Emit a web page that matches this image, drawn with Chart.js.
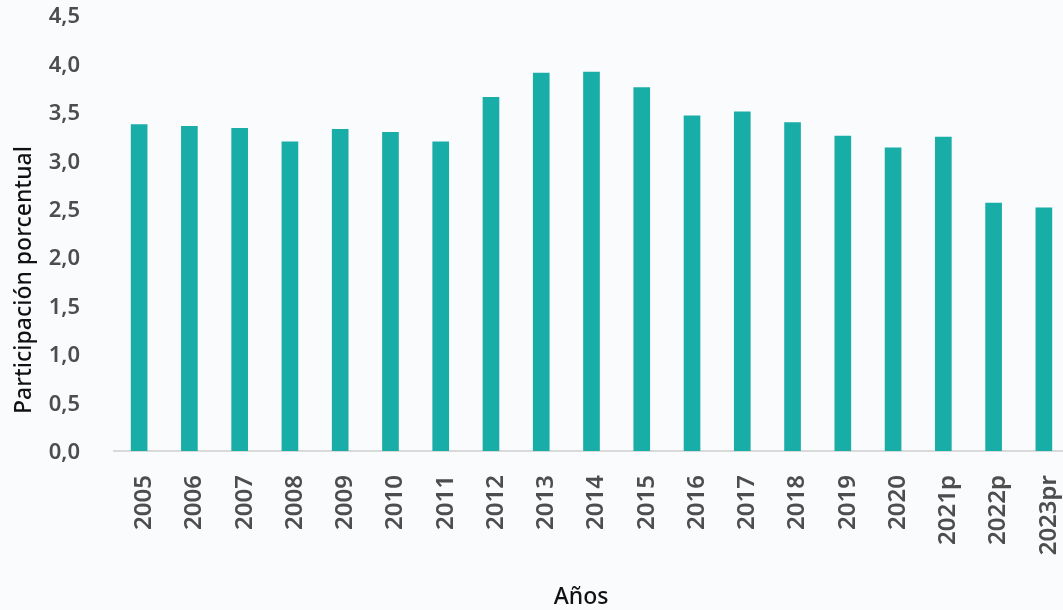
<!DOCTYPE html>
<html>
<head>
<meta charset="utf-8">
<script src="https://cdn.jsdelivr.net/npm/chart.js@4.4.1/dist/chart.umd.min.js"></script>
<style>
html,body{margin:0;padding:0;background:#fafbfd;overflow:hidden}
#wrap{position:relative;width:1069px;height:610px}
</style>
</head>
<body>
<div id="wrap"><canvas id="c"></canvas></div>
<script>
const categories = ["2005","2006","2007","2008","2009","2010","2011","2012","2013","2014","2015","2016","2017","2018","2019","2020","2021p","2022p","2023pr"];
const values = [3.37,3.35,3.33,3.19,3.32,3.29,3.19,3.65,3.90,3.91,3.75,3.46,3.50,3.39,3.25,3.13,3.24,2.56,2.51];
const yMin = 0, yMax = 4.5, yStep = 0.5;
const xTitle = "Años";
const yTitle = "Participación porcentual";

const FONT = '"Noto Sans", "Liberation Sans", Arial, sans-serif';

const titlePlugin = {
  id: 'axisTitles',
  afterDraw(chart) {
    const ctx = chart.ctx;
    ctx.save();
    ctx.font = '500 23px ' + FONT;
    ctx.fillStyle = '#111111';
    ctx.textAlign = 'center';
    ctx.textBaseline = 'alphabetic';
    ctx.fillText(xTitle, 581, 604);
    ctx.translate(31, 280);
    ctx.rotate(-Math.PI / 2);
    ctx.fillText(yTitle, 0, 0);
    ctx.restore();
  }
};

new Chart(document.getElementById('c'), {
  type: 'bar',
  data: {
    labels: categories,
    datasets: [{
      data: values,
      backgroundColor: '#19ada8',
      borderWidth: 0,
      barThickness: 16
    }]
  },
  plugins: [titlePlugin],
  options: {
    responsive: true,
    maintainAspectRatio: false,
    animation: false,
    layout: { padding: { top: 15, right: 0, left: 0, bottom: 0 } },
    plugins: { legend: { display: false }, tooltip: { enabled: false } },
    scales: {
      x: {
        grid: { display: false, drawTicks: false },
        border: { display: true, color: '#d9d9d9', width: 2 },
        ticks: {
          color: '#4d4d4d',
          font: { family: FONT, size: 24, weight: '600' },
          minRotation: 90, maxRotation: 90,
          padding: 24,
          labelOffset: 5,
          autoSkip: false
        },
        afterFit(scale) {
          scale.height = 159;
          scale.paddingLeft = 0; scale.paddingRight = 0;
          scale.paddingTop = 0; scale.paddingBottom = 0;
        }
      },
      y: {
        min: yMin, max: yMax,
        grid: { display: false, drawTicks: false },
        border: { display: false },
        ticks: {
          stepSize: yStep,
          color: '#4d4d4d',
          font: { family: FONT, size: 22, weight: '600' },
          padding: 34,
          labelOffset: 2,
          callback: (v) => Number(v).toFixed(1).replace('.', ',')
        },
        afterFit(scale) {
          scale.width = 114;
          scale.paddingTop = 0; scale.paddingBottom = 0;
          scale.paddingLeft = 0; scale.paddingRight = 0;
        }
      }
    }
  }
});
</script>
</body>
</html>
